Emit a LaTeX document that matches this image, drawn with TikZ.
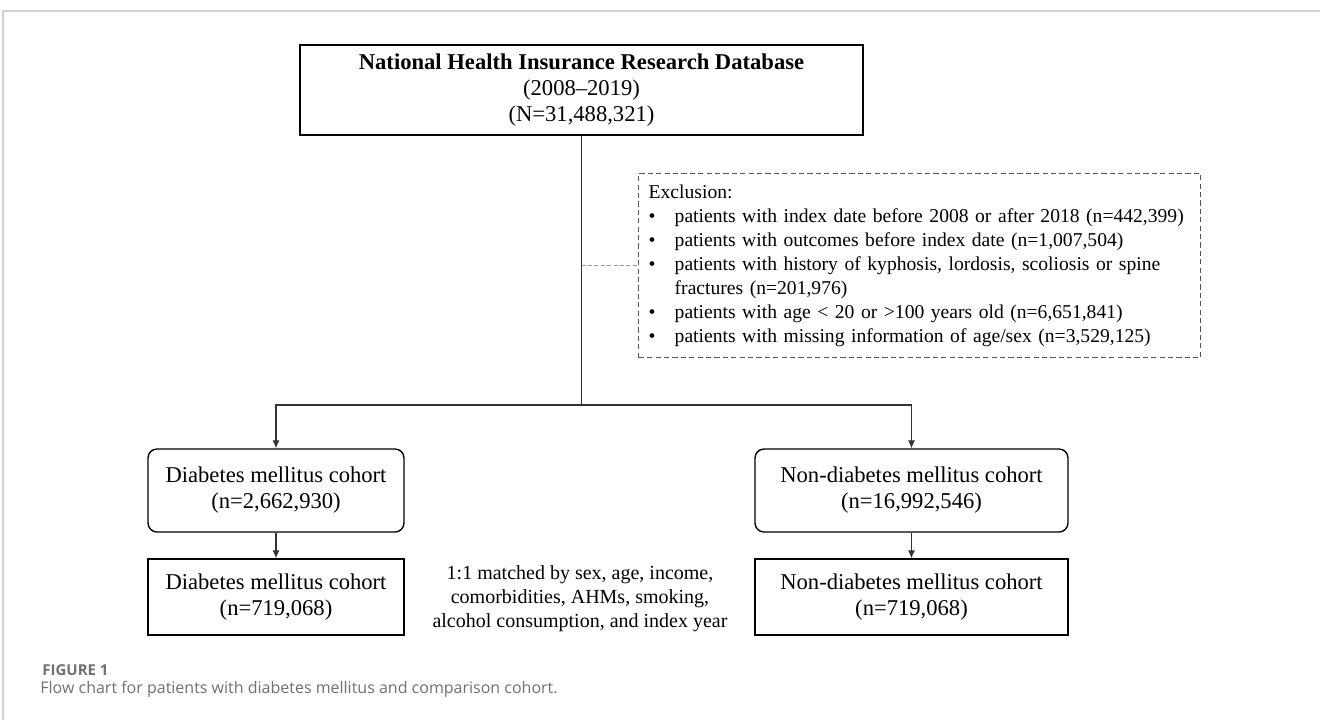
\documentclass[tikz,border=0pt]{standalone}
\usepackage{fontspec}
\setmainfont{Liberation Serif}
\newfontfamily\capfont{Open Sans}
\usetikzlibrary{arrows.meta}
\definecolor{FCFrame}{HTML}{D2D2D2}
\definecolor{FCLink}{HTML}{333333}
\definecolor{FCDash}{HTML}{555555}
\definecolor{FCThin}{HTML}{9A9A9A}
\definecolor{FCCap}{HTML}{707070}
\newcommand{\exlabel}[1]{#1\hfil}
\newenvironment{exlist}{\begin{list}{\textbullet}{\leftmargin=13pt\labelwidth=13pt\labelsep=0pt
    \topsep=0pt\partopsep=0pt\parsep=0pt\itemsep=0pt\let\makelabel\exlabel}\raggedright}{\end{list}}

\begin{document}
\begin{tikzpicture}[x=0.5pt,y=-0.5pt,
  box/.style={draw=black,line width=.7pt,align=center,inner sep=0pt,font=\fontsize{11.3}{13}\selectfont},
  rbox/.style={box,rounded corners=4.5pt},
  exbox/.style={draw=FCDash,line width=.7pt,dash pattern=on 2.6pt off 1.6pt,inner xsep=5pt,inner ysep=5.5pt,
    text width=271pt,align=left,font=\fontsize{9.8}{12}\selectfont},
  link/.style={draw=FCLink,line width=.6pt},
  arr/.style={link,-{Latex[length=4pt,width=3.6pt]}}]
\path[use as bounding box] (0,0) rectangle (1320,720);
\draw[FCFrame,line width=.8pt] (3,720) -- (3,11) -- (1320,11);
% database and exclusions
\node[box,minimum width=281.5pt,minimum height=45pt] (nhird) at (581.5,90)
  {\textbf{National Health Insurance Research Database}\\(2008--2019)\\(N=31,488,321)};
\node[exbox,anchor=north west] (excl) at (638,173) {Exclusion:\par
  \begin{exlist}
  \item \mbox{patients with index date before 2008 or after 2018 (n=442,399)}
  \item patients with outcomes before index date (n=1,007,504)
  \item patients with history of kyphosis, lordosis, scoliosis or spine\newline fractures (n=201,976)
  \item patients with age < 20 or >100 years old (n=6,651,841)
  \item patients with missing information of age/sex (n=3,529,125)
  \end{exlist}};
% cohorts
\node[rbox,minimum width=128pt,minimum height=41.5pt] (dm) at (276,490.5)
  {Diabetes mellitus cohort\\(n=2,662,930)};
\node[rbox,minimum width=156.5pt,minimum height=41.5pt] (ndm) at (911.5,490.5)
  {Non-diabetes mellitus cohort\\(n=16,992,546)};
\node[box,minimum width=128pt,minimum height=38pt] (dmm) at (276,597)
  {Diabetes mellitus cohort\\(n=719,068)};
\node[box,minimum width=156.5pt,minimum height=38pt] (ndmm) at (911.5,597)
  {Non-diabetes mellitus cohort\\(n=719,068)};
\node[align=center,font=\fontsize{10}{12}\selectfont] (match) at (580,599)
  {1:1 matched by sex, age, income,\\comorbidities, AHMs, smoking,\\alcohol consumption, and index year};
% connectors
\coordinate (fork) at (581.5,405);
\draw[link] (nhird.south) -- (fork);
\draw[arr] (fork) -| (dm.north);
\draw[arr] (fork) -| (ndm.north);
\draw[arr] (dm.south) -- (dmm.north);
\draw[arr] (ndm.south) -- (ndmm.north);
\draw[FCThin,line width=.5pt,dash pattern=on 2pt off 1.2pt] (nhird.south |- excl.west) -- (excl.west);
% caption
\node[anchor=west,inner sep=0pt,text=FCCap,font=\capfont\bfseries\fontsize{7.5}{8}\selectfont] (fig) at (42,670) {FIGURE 1};
\node[anchor=west,inner sep=0pt,text=FCCap,font=\capfont\fontsize{8}{9}\selectfont] (cap) at (40,689)
  {Flow chart for patients with diabetes mellitus and comparison cohort.};
\end{tikzpicture}
\end{document}
